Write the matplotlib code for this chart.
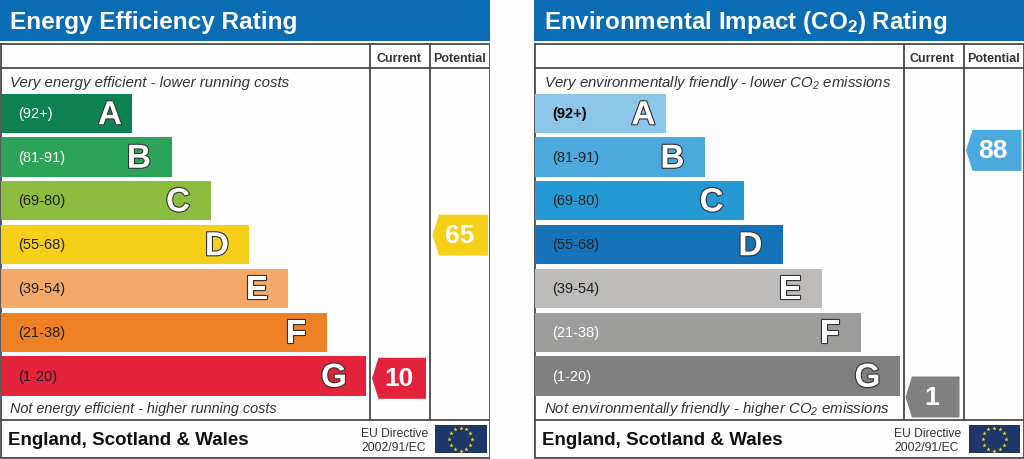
import numpy as np
import matplotlib
matplotlib.use("Agg")
import matplotlib.pyplot as plt
import matplotlib.patheffects as pe
from matplotlib.patches import Polygon, Rectangle

plt.rcParams['font.family'] = ['Liberation Sans', 'DejaVu Sans']
plt.rcParams['mathtext.default'] = 'regular'

letters = ['A', 'B', 'C', 'D', 'E', 'F', 'G']
ranges = ['(92+)', '(81-91)', '(69-80)', '(55-68)', '(39-54)', '(21-38)', '(1-20)']
band_hi = [100, 91, 80, 68, 54, 38, 20]
band_lo = [92, 81, 69, 55, 39, 21, 1]
band_len = [132, 171.5, 210.5, 249, 288, 327, 366]
band_top = [94.5, 138, 181.5, 225.5, 269.5, 313.5, 357]
band_h = 39.5
letter_gap = [10, 20.5, 20.5, 20, 20, 20.5, 19]

energy_colors = ['#0f8254', '#2ba45a', '#8dbd40', '#f6d018', '#f4a96b', '#ee8026', '#e3223c']
energy_text = ['white', 'white', '#222222', '#222222', '#222222', '#222222', '#222222']
env_colors = ['#8cc6e8', '#4ba9de', '#2499d3', '#1573b9', '#bcbbb9', '#9d9d9c', '#808080']
env_text = ['black', '#222222', '#222222', '#222222', '#222222', 'white', 'white']

energy_current, energy_potential = 10, 65
env_current, env_potential = 1, 88


def band_index(v):
    return next(i for i in range(7) if band_lo[i] <= v <= band_hi[i])


def arrow(ax, v, col, x_left, w):
    i = band_index(v)
    frac = (band_hi[i] - v) / (band_hi[i] - band_lo[i])
    yc = band_top[i] + frac * band_h + 1.5
    c = energy_colors[i] if col == 'e' else env_colors[i]
    h, tip = 20.5, 6.5
    ax.add_patch(Polygon([(x_left, yc), (x_left + tip, yc - h), (x_left + w, yc - h),
                          (x_left + w, yc + h), (x_left + tip, yc + h)],
                         closed=True, fc=c, ec='none', zorder=3))
    ax.text(x_left + w / 2 - 0.5, yc, str(v), color='white', fontsize=19, fontweight='bold',
            ha='center', va='center', zorder=4)


def panel(rect, title, title_fs, top_txt, bottom_txt, colors, tcols, cur, pot, kind, bottom_fs):
    ax = fig.add_axes(rect)
    ax.set_xlim(0, 490)
    ax.set_ylim(460, 0)
    ax.axis('off')
    ax.add_patch(Rectangle((0, 0), 491, 41.5, fc='#0a6cb3', ec='none'))
    ax.text(10, 28.5, title, color='white', fontsize=title_fs, fontweight='bold', va='baseline', ha='left')

    lc = '#4a4a4a'
    lw = 1.3
    ax.plot([1, 490, 490, 1, 1], [44.5, 44.5, 459, 459, 44.5], color=lc, lw=lw, solid_joinstyle='miter')
    ax.plot([1, 490], [69, 69], color=lc, lw=lw)
    ax.plot([1, 490], [420.5, 420.5], color=lc, lw=lw)
    ax.plot([370, 370], [44.5, 420.5], color=lc, lw=lw)
    ax.plot([430, 430], [44.5, 420.5], color=lc, lw=lw)

    ax.text(399, 58.5, 'Current', fontsize=9, fontweight='bold', color='#333333', ha='center', va='center')
    ax.text(460, 58.5, 'Potential', fontsize=9, fontweight='bold', color='#333333', ha='center', va='center')
    ax.text(10.5, 87, top_txt, fontsize=10.85, style='italic', color='#333333', va='baseline')
    ax.text(10.5, 413.5, bottom_txt, fontsize=bottom_fs, style='italic', color='#333333', va='baseline')

    ax.barh(band_top, np.array(band_len) - 1, height=band_h, left=1, align='edge',
            color=colors, edgecolor='none', zorder=2)
    for i in range(7):
        yc = band_top[i] + band_h / 2
        ax.text(18.5, yc, ranges[i], fontsize=10.5, color=tcols[i], va='center', ha='left', zorder=3,
                fontweight='bold' if (kind == 'v' and i == 0) else 'normal')
        ax.text(band_len[i] - letter_gap[i], yc + 2.5, letters[i], fontsize=24, fontweight='bold', color='white',
                ha='right', va='center', zorder=4,
                path_effects=[pe.withStroke(linewidth=1.6, foreground='#333333')])

    arrow(ax, cur, kind, 372, 54)
    arrow(ax, pot, kind, 432.5, 55.5)

    ax.text(8, 441, 'England, Scotland & Wales', fontsize=13.5, fontweight='bold', color='#111111', va='center')
    ax.text(361, 434.5, 'EU Directive', fontsize=8.7, color='#333333', va='center')
    ax.text(361, 448.5, '2002/91/EC', fontsize=8.7, color='#333333', va='center')

    ax.add_patch(Rectangle((435, 426), 51.5, 28, fc='#1f3668', ec='none'))
    ang = np.deg2rad(np.arange(0, 360, 30))
    ax.scatter(460.5 + 11.5 * np.cos(ang), 440 + 11.5 * np.sin(ang), marker='*', s=11,
               color='#f4d21f', linewidths=0, zorder=3)


fig = plt.figure(figsize=(10.24, 4.60), dpi=100, facecolor='#fefefe')
w = 490 / 1024
panel([0, 0, w, 1], 'Energy Efficiency Rating', 17.55,
      'Very energy efficient - lower running costs',
      'Not energy efficient - higher running costs',
      energy_colors, energy_text, energy_current, energy_potential, 'e', 10.4)
panel([533.5 / 1024, 0, w, 1], 'Environmental Impact (CO$_2$) Rating', 17.4,
      'Very environmentally friendly - lower CO$_2$ emissions',
      'Not environmentally friendly - higher CO$_2$ emissions',
      env_colors, env_text, env_current, env_potential, 'v', 10.85)
fig.savefig('out.png', dpi=100, facecolor=fig.get_facecolor())
